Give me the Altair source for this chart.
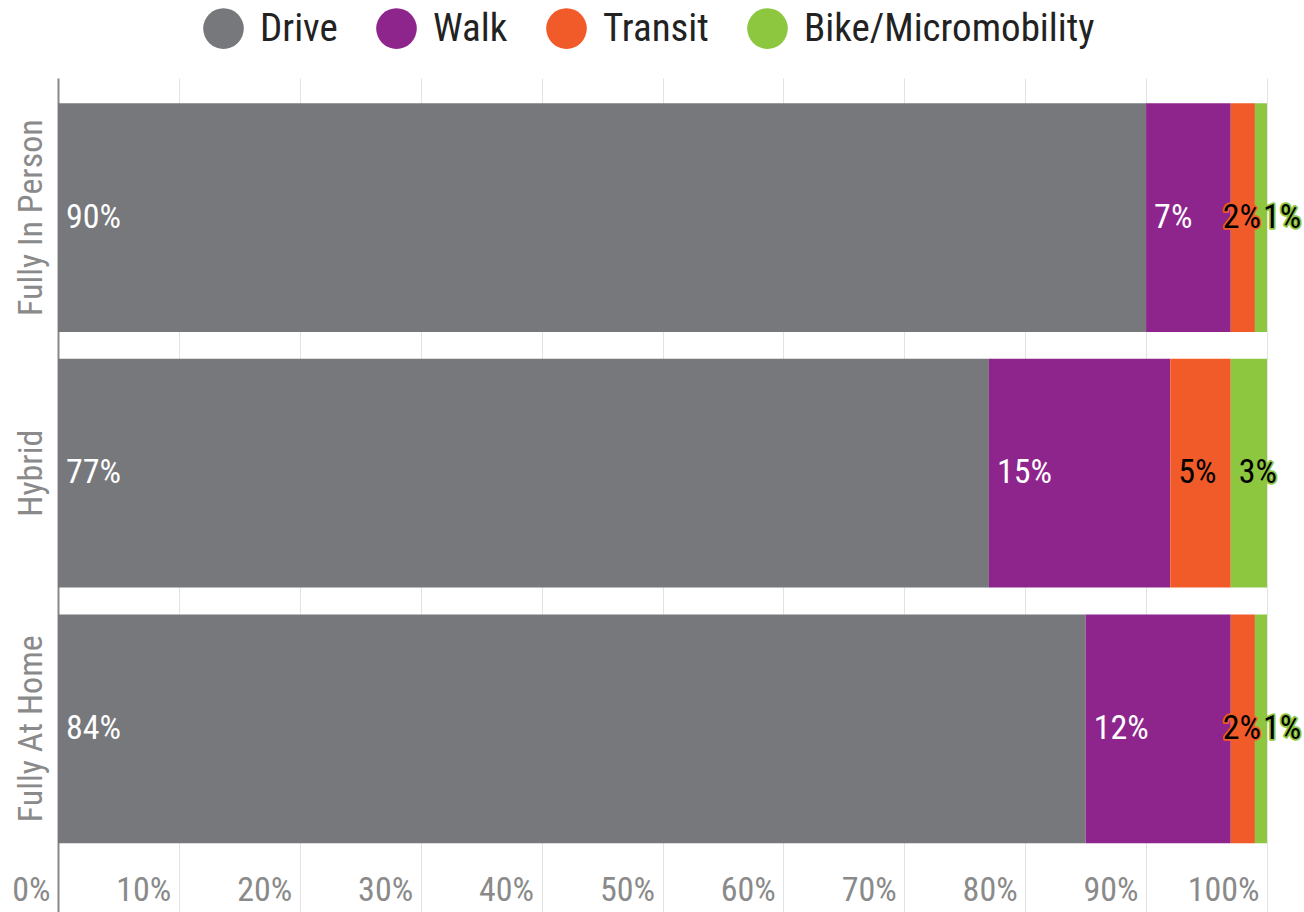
import altair as alt
import pandas as pd

groups = ["Fully In Person", "Hybrid", "Fully At Home"]
modes = ["Drive", "Walk", "Transit", "Bike/Micromobility"]
colors = ["#77787b", "#8e258d", "#f15a29", "#8dc63f"]
label_colors = ["white", "white", "black", "black"]

drive = [90, 77, 85]
walk = [7, 15, 12]
transit = [2, 5, 2]
bike = [1, 3, 1]
labels_drive = ["90%", "77%", "84%"]
labels_walk = ["7%", "15%", "12%"]
labels_transit = ["2%", "5%", "2%"]
labels_bike = ["1%", "3%", "1%"]

rows = []
series = [drive, walk, transit, bike]
labels = [labels_drive, labels_walk, labels_transit, labels_bike]
for gi, g in enumerate(groups):
    for mi, m in enumerate(modes):
        rows.append({"group": g, "mode": m, "order": mi, "value": series[mi][gi],
                     "label": labels[mi][gi], "lc": label_colors[mi]})
df = pd.DataFrame(rows)

FONT = "'Roboto Condensed', 'Liberation Sans Narrow', 'DejaVu Sans Condensed', Roboto, sans-serif"
FS = 34
FW = 400

color_scale = alt.Scale(domain=modes, range=colors)

base = alt.Chart(df).transform_stack(
    stack="value", groupby=["group"], sort=[alt.SortField("order")], as_=["x0", "x1"]
)

y_enc = alt.Y("group:N", sort=groups, title=None,
              scale=alt.Scale(paddingInner=0.105, paddingOuter=0.19, align=0.26),
              axis=alt.Axis(labelAngle=-90, labelAlign="center", labelBaseline="bottom",
                            labelPadding=10, labelFontSize=FS, labelColor="#8a8a8a",
                            labelFont=FONT, labelFontWeight=FW, ticks=False,
                            domainColor="#888888", domainWidth=2, labelLimit=400))

bars = base.mark_bar().encode(
    x=alt.X("x0:Q", scale=alt.Scale(domain=[0, 100], nice=False), title=None,
            axis=alt.Axis(values=list(range(0, 101, 10)), labelExpr="datum.value + '%'",
                          grid=True, gridColor="#e3e3e3", domain=False, ticks=False,
                          labelAlign="right", labelOffset=-8, labelPadding=-25,
                          labelBaseline="middle",
                          labelFontSize=FS, labelColor="#8a8a8a", labelFont=FONT,
                          labelFontWeight=FW, labelFlush=False)),
    x2="x1:Q",
    y=y_enc,
    color=alt.Color("mode:N", scale=color_scale, sort=modes, title=None,
                    legend=alt.Legend(orient="none", direction="horizontal",
                                      legendX=145, legendY=-70,
                                      symbolType="circle", symbolSize=1650,
                                      symbolStrokeWidth=0, labelFontSize=39,
                                      labelFont=FONT, labelFontWeight=FW,
                                      labelColor="#222222", labelLimit=600,
                                      labelOffset=16, columnPadding=38,
                                      symbolOpacity=1)),
    order=alt.Order("order:Q"),
)

normal = base.transform_filter("!(datum.order == 2 && datum.value < 3)")
crowded = base.transform_filter("datum.order == 2 && datum.value < 3")

def txt(b, dx, halo):
    if halo:
        m = b.transform_filter("datum.order >= 2").mark_text(
            align="left", baseline="middle", dx=dx, fontSize=FS, font=FONT,
            fontWeight=FW, strokeWidth=3.5, strokeJoin="round").encode(
            x="x0:Q", y=alt.Y("group:N", sort=groups),
            text="label:N",
            stroke=alt.Color("mode:N", scale=color_scale, legend=None),
            fill=alt.Color("mode:N", scale=color_scale, legend=None))
    else:
        m = b.mark_text(align="left", baseline="middle", dx=dx, fontSize=FS,
                        font=FONT, fontWeight=FW).encode(
            x="x0:Q", y=alt.Y("group:N", sort=groups),
            text="label:N",
            color=alt.Color("lc:N", scale=None))
    return m

chart = alt.layer(
    bars,
    txt(normal, 8, True), txt(crowded, -8, True),
    txt(normal, 8, False), txt(crowded, -8, False),
).properties(
    width=1209, height=837,
    padding={"left": 58, "top": 78, "right": 37, "bottom": 0},
    autosize=alt.AutoSizeParams(type="none"),
).configure_view(stroke=None)

chart.save("out.html", embed_options={"renderer": "svg", "actions": False})
